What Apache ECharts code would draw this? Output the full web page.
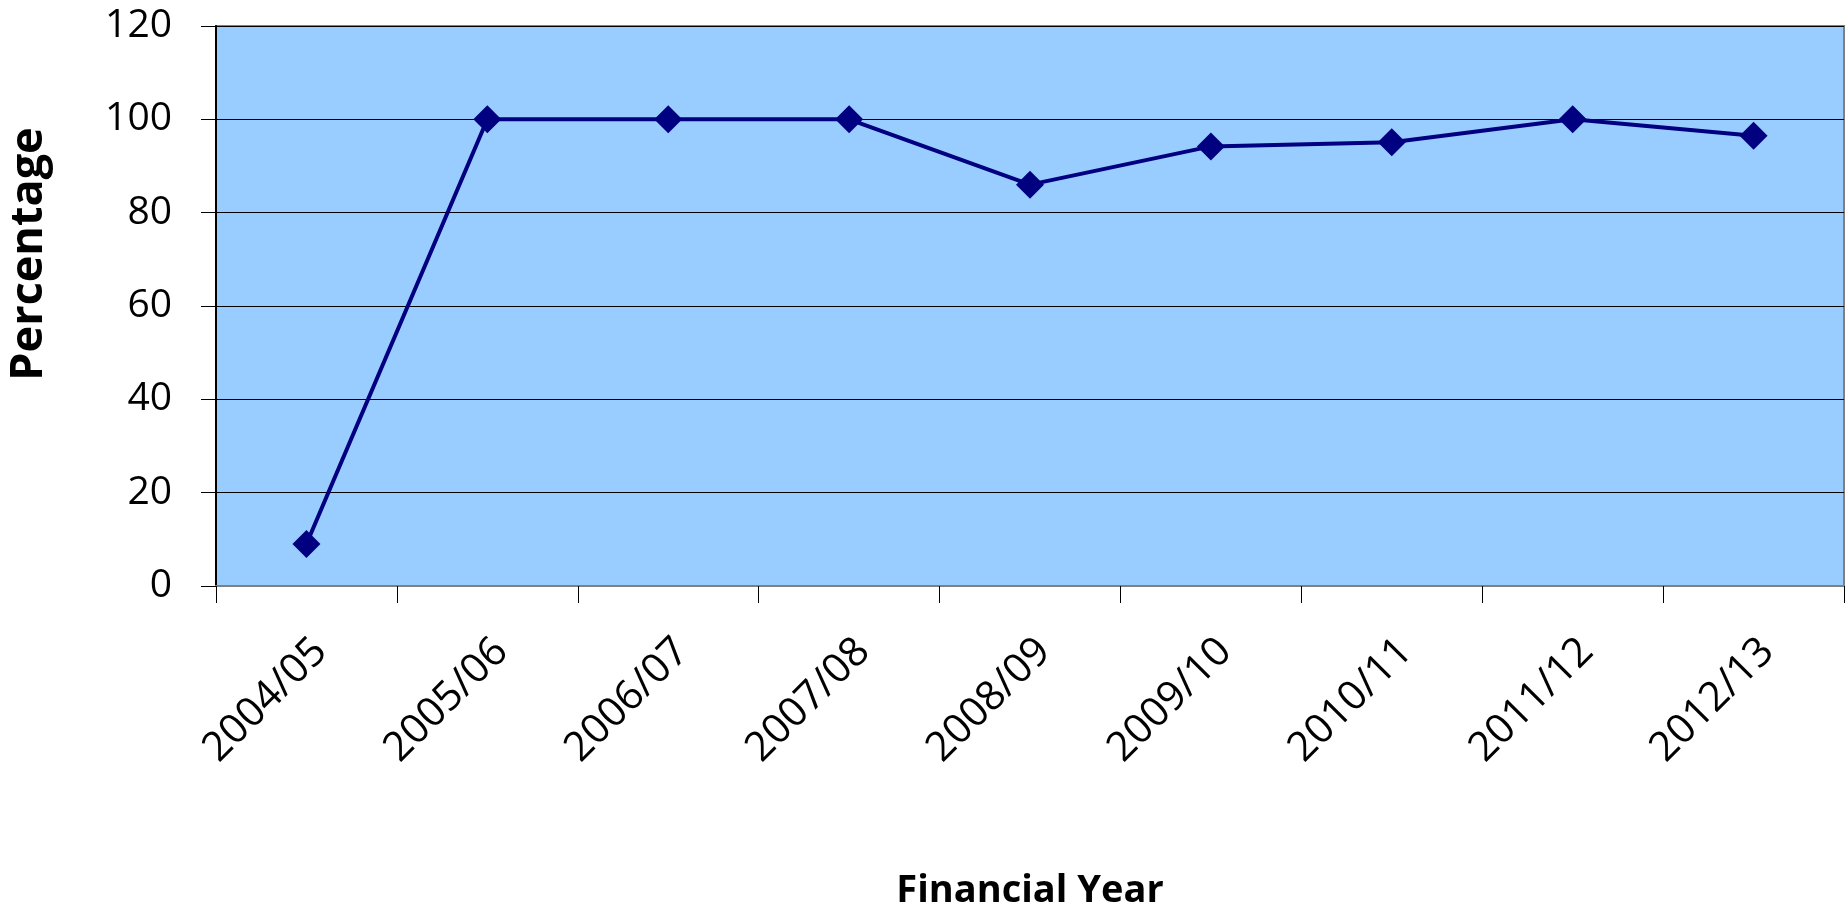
<!DOCTYPE html>
<html>
<head>
<meta charset="utf-8">
<script src="https://cdn.jsdelivr.net/npm/echarts@6/dist/echarts.min.js"></script>
<style>
  html, body { margin: 0; padding: 0; background: #fff; }
  #chart { width: 1845px; height: 914px; }
</style>
</head>
<body>
<div id="chart"></div>
<script>
// financial years and the percentage for each
const years = ['2004/05', '2005/06', '2006/07', '2007/08', '2008/09', '2009/10', '2010/11', '2011/12', '2012/13'];
const percentages = [9, 100, 100, 100, 86, 94.2, 95.1, 100, 96.5];
const yTicks = [0, 20, 40, 60, 80, 100, 120];

const font = '"Open Sans", sans-serif';

const chart = echarts.init(document.getElementById('chart'));

const option = {
  animation: false,
  grid: {
    left: 216, right: 1, top: 26, bottom: 328,
    outerBoundsMode: 'none',
    containLabel: false,
    show: true,
    backgroundColor: '#99CCFF',
    borderColor: '#808080',
    borderWidth: 2
  },
  xAxis: {
    type: 'category',
    data: years,
    name: 'Financial Year',
    nameLocation: 'middle',
    nameGap: 286,
    nameTextStyle: { fontFamily: font, fontSize: 38, fontWeight: 'bold', color: '#000' },
    axisLine: { lineStyle: { color: '#808080', width: 2 } },
    axisTick: { show: true, length: 17, lineStyle: { color: '#000', width: 1 } },
    axisLabel: {
      rotate: 45,
      margin: 45,
      fontFamily: font,
      fontSize: 41,
      color: '#000',
      // blank first line pushes the label a little down-right, like the original
      formatter: (v) => '{s|\u00a0}\n' + v,
      rich: { s: { fontSize: 4, lineHeight: 40 } }
    }
  },
  yAxis: {
    type: 'value',
    min: yTicks[0],
    max: yTicks[yTicks.length - 1],
    interval: 20,
    name: 'Percentage',
    nameLocation: 'middle',
    nameGap: 164,
    nameTextStyle: { fontFamily: font, fontSize: 45, fontWeight: 'bold', color: '#000', padding: [0, 0, 0, 104] },
    axisLine: { show: true, lineStyle: { color: '#000', width: 2 } },
    axisTick: { show: true, length: 15, lineStyle: { color: '#000', width: 1 } },
    splitLine: { lineStyle: { color: '#000', width: 1 } },
    axisLabel: {
      margin: 44,
      fontFamily: font,
      fontSize: 39,
      color: '#000'
    }
  },
  series: [{
    type: 'line',
    data: percentages,
    symbol: 'diamond',
    symbolSize: 28,
    lineStyle: { color: '#000080', width: 4 },
    itemStyle: { color: '#000080' }
  }]
};

chart.setOption(option);
</script>
</body>
</html>
